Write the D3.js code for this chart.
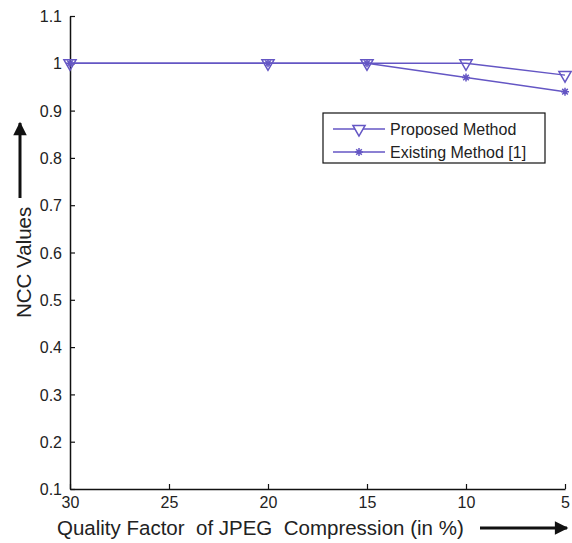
<!DOCTYPE html>
<html>
<head>
<meta charset="utf-8">
<script src="https://cdn.jsdelivr.net/npm/d3@7"></script>
<style>
  body { margin: 0; background: #fff; }
  text { font-family: "Liberation Sans", Arial, sans-serif; fill: #222; }
</style>
</head>
<body>
<div id="chart"></div>
<script>
const qualityFactors = [30, 20, 15, 10, 5];
const proposedValues = [1, 1, 1, 1, 0.975];
const existingValues = [1, 1, 1, 0.97, 0.94];
const xTicks = [30, 25, 20, 15, 10, 5];
const yTicks = [0.1, 0.2, 0.3, 0.4, 0.5, 0.6, 0.7, 0.8, 0.9, 1, 1.1];
const seriesNames = ["Proposed Method", "Existing Method [1]"];

const settings = {
  width: 572,
  height: 543,
  lineColor: "#6456c4",
  fontSize: "16px",
  titleSize: "20.5px",
};

const svg = d3.select("#chart")
  .append("svg")
  .attr("width", settings.width)
  .attr("height", settings.height);

const x = d3.scaleLinear().domain([30, 5]).range([70, 565]);
const y = d3.scaleLinear().domain([0.1, 1.1]).range([489, 16]);

// axes, ticks point inward like matlab
const xAxis = svg.append("g")
  .attr("transform", `translate(0,${y(0.1)})`)
  .call(d3.axisBottom(x).tickValues(xTicks).tickSize(-5).tickPadding(8).tickSizeOuter(0));
const yAxis = svg.append("g")
  .attr("transform", `translate(${x(30)},0)`)
  .call(d3.axisLeft(y).tickValues(yTicks).tickSize(-5).tickPadding(8).tickSizeOuter(0)
    .tickFormat(d3.format("")));

[xAxis, yAxis].forEach(a => {
  a.select(".domain").attr("stroke", "#111").attr("stroke-width", 1.5);
  a.selectAll(".tick line").attr("stroke", "#111").attr("stroke-width", 1.2);
  a.selectAll(".tick text").attr("font-size", settings.fontSize)
    .attr("font-family", "Liberation Sans, Arial, sans-serif").attr("fill", "#222");
});
yAxis.selectAll(".tick text").attr("dy", "0.35em");

const line = d3.line().x(d => x(d[0])).y(d => y(d[1]));
const triangle = d3.symbol().type(d3.symbolTriangle).size(64);

function asterisk(s) {
  const a = s * 0.7;
  return `M${-s},0L${s},0M0,${-s}L0,${s}M${-a},${-a}L${a},${a}M${-a},${a}L${a},${-a}`;
}

const existingPts = qualityFactors.map((q, i) => [q, existingValues[i]]);
const proposedPts = qualityFactors.map((q, i) => [q, proposedValues[i]]);

svg.append("path").datum(existingPts).attr("d", line)
  .attr("fill", "none").attr("stroke", settings.lineColor).attr("stroke-width", 1.5);
svg.append("path").datum(proposedPts).attr("d", line)
  .attr("fill", "none").attr("stroke", settings.lineColor).attr("stroke-width", 1.5);

svg.selectAll(".star").data(existingPts).enter().append("path")
  .attr("d", asterisk(4))
  .attr("transform", d => `translate(${x(d[0])},${y(d[1])})`)
  .attr("stroke", settings.lineColor).attr("stroke-width", 1.5).attr("fill", "none");

svg.selectAll(".tri").data(proposedPts).enter().append("path")
  .attr("d", triangle)
  .attr("transform", d => `translate(${x(d[0])},${y(d[1])}) rotate(180)`)
  .attr("stroke", settings.lineColor).attr("stroke-width", 1.5).attr("fill", "none");

// legend
const legend = svg.append("g").attr("transform", "translate(323,113)");
legend.append("rect").attr("width", 222).attr("height", 50)
  .attr("fill", "#fff").attr("stroke", "#111").attr("stroke-width", 1.2);
seriesNames.forEach((name, i) => {
  const ly = 16 + i * 23;
  legend.append("line").attr("x1", 10).attr("x2", 62).attr("y1", ly).attr("y2", ly)
    .attr("stroke", settings.lineColor).attr("stroke-width", 1.5);
  legend.append("path")
    .attr("d", i === 0 ? triangle : asterisk(4))
    .attr("transform", i === 0 ? `translate(36,${ly}) rotate(180)` : `translate(36,${ly})`)
    .attr("stroke", settings.lineColor).attr("stroke-width", 1.5).attr("fill", i === 0 ? "#fff" : "none");
  legend.append("text").attr("x", 67).attr("y", ly).attr("dy", "0.35em")
    .attr("font-size", settings.fontSize).text(name);
});

// axis titles with arrows
svg.append("defs").append("marker")
  .attr("id", "arrow").attr("viewBox", "0 0 10 10").attr("refX", 9).attr("refY", 5)
  .attr("markerWidth", 5.5).attr("markerHeight", 4.5).attr("orient", "auto")
  .append("path").attr("d", "M0,0L10,5L0,10Z").attr("fill", "#111");

svg.append("text").attr("x", 57).attr("y", 535)
  .attr("font-size", settings.titleSize).style("white-space", "pre")
  .text("Quality Factor  of JPEG  Compression (in %)");
svg.append("line").attr("x1", 480).attr("x2", 567).attr("y1", 528).attr("y2", 528)
  .attr("stroke", "#111").attr("stroke-width", 3).attr("marker-end", "url(#arrow)");

svg.append("text").attr("transform", "translate(31,318) rotate(-90)")
  .attr("font-size", settings.titleSize).text("NCC Values");
svg.append("line").attr("x1", 20).attr("x2", 20).attr("y1", 198).attr("y2", 123)
  .attr("stroke", "#111").attr("stroke-width", 3).attr("marker-end", "url(#arrow)");
</script>
</body>
</html>
